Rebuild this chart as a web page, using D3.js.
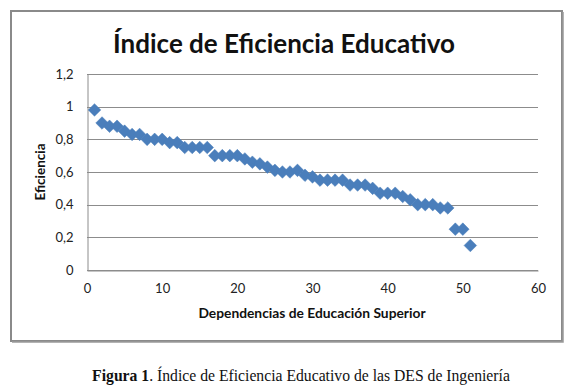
<!DOCTYPE html>
<html>
<head>
<meta charset="utf-8">
<script src="https://cdn.jsdelivr.net/npm/d3@7"></script>
<style>
  body { margin: 0; background: #fff; }
  svg text { font-family: Lato, "Open Sans", sans-serif; }
</style>
</head>
<body>
<div id="chart"></div>
<script>
// values (x = dependencia, y = eficiencia)
let dependencias = d3.range(1, 52);
let eficiencia = [0.98, 0.90, 0.88, 0.88, 0.85, 0.83, 0.83, 0.80, 0.80, 0.80,
                  0.78, 0.78, 0.75, 0.75, 0.75, 0.75, 0.70, 0.70, 0.70, 0.70,
                  0.68, 0.66, 0.65, 0.63, 0.61, 0.60, 0.60, 0.61, 0.58, 0.57,
                  0.55, 0.55, 0.55, 0.55, 0.52, 0.52, 0.52, 0.50, 0.47, 0.47,
                  0.47, 0.45, 0.43, 0.40, 0.40, 0.40, 0.38, 0.38, 0.25, 0.25,
                  0.15];
let xTicks = [0, 10, 20, 30, 40, 50, 60];
let yTicks = [0, 0.2, 0.4, 0.6, 0.8, 1, 1.2];

let data = dependencias.map((d, i) => ({x: d, y: eficiencia[i]}));

let width = 575, height = 387;
let margin = {top: 74, left: 87, right: 37, bottom: 117};

let svg = d3.select("#chart").append("svg")
    .attr("width", width)
    .attr("height", height);

// chart frame
svg.append("rect")
    .attr("x", 11).attr("y", 11)
    .attr("width", 551).attr("height", 330)
    .attr("fill", "none")
    .attr("stroke", "#8a8a8a")
    .attr("stroke-width", 2);
svg.append("path")
    .attr("d", "M563,12V342H12")
    .attr("fill", "none")
    .attr("stroke", "#9a9a9a")
    .attr("stroke-width", 1.5);

let x = d3.scaleLinear().domain([0, 60]).range([margin.left, width - margin.right]);
let y = d3.scaleLinear().domain([0, 1.2]).range([height - margin.bottom, margin.top]);

let fmt = d => d3.format(".1~f")(d).replace(".", ",");

// gridlines
svg.append("g")
    .selectAll("line")
    .data(yTicks)
    .enter().append("line")
    .attr("x1", x(0)).attr("x2", x(60))
    .attr("y1", d => Math.round(y(d)) + 0.5)
    .attr("y2", d => Math.round(y(d)) + 0.5)
    .attr("stroke", "#8c8c8c")
    .attr("stroke-width", 1);

// axes
let yAxis = d3.axisLeft(y).tickValues(yTicks).tickFormat(fmt).tickSize(0).tickPadding(14);
let xAxis = d3.axisBottom(x).tickValues(xTicks).tickSize(0).tickPadding(13);

let gy = svg.append("g")
    .attr("transform", "translate(" + (Math.round(x(0)) + 0.5) + ",0)")
    .call(yAxis);
let gx = svg.append("g")
    .attr("transform", "translate(0," + (Math.round(y(0)) + 0.5) + ")")
    .call(xAxis);

svg.selectAll(".domain").attr("stroke", "#8c8c8c");
svg.selectAll(".tick text")
    .attr("font-size", 13)
    .attr("fill", "#222")
    .style("font-family", "Lato, sans-serif");

// markers
svg.append("g")
    .selectAll("path")
    .data(data)
    .enter().append("path")
    .attr("transform", d => "translate(" + x(d.x) + "," + y(d.y) + ")")
    .attr("d", "M0,-6.3L6.3,0L0,6.3L-6.3,0Z")
    .attr("fill", "#4a7ebb")
    .attr("stroke", "#4a7ebb")
    .attr("stroke-width", 0.5);

// titles
svg.append("text")
    .attr("x", 284)
    .attr("y", 53)
    .attr("text-anchor", "middle")
    .attr("font-size", 26)
    .attr("font-weight", "bold")
    .attr("fill", "#111")
    .text("Índice de Eficiencia Educativo");

svg.append("text")
    .attr("x", 312)
    .attr("y", 318)
    .attr("text-anchor", "middle")
    .attr("font-size", 13.8)
    .attr("font-weight", "bold")
    .attr("fill", "#111")
    .text("Dependencias de Educación Superior");

svg.append("text")
    .attr("transform", "translate(45,172) rotate(-90)")
    .attr("text-anchor", "middle")
    .attr("font-size", 13.5)
    .attr("font-weight", "bold")
    .attr("fill", "#111")
    .text("Eficiencia");

// figure caption
let cap = svg.append("text")
    .attr("x", 301)
    .attr("y", 381)
    .attr("text-anchor", "middle")
    .attr("font-size", 15.7)
    .attr("fill", "#111")
    .style("font-family", "'Liberation Serif', 'Times New Roman', serif");
cap.append("tspan").attr("font-weight", "bold").text("Figura 1");
cap.append("tspan").text(". Índice de Eficiencia Educativo de las DES de Ingeniería");
</script>
</body>
</html>
